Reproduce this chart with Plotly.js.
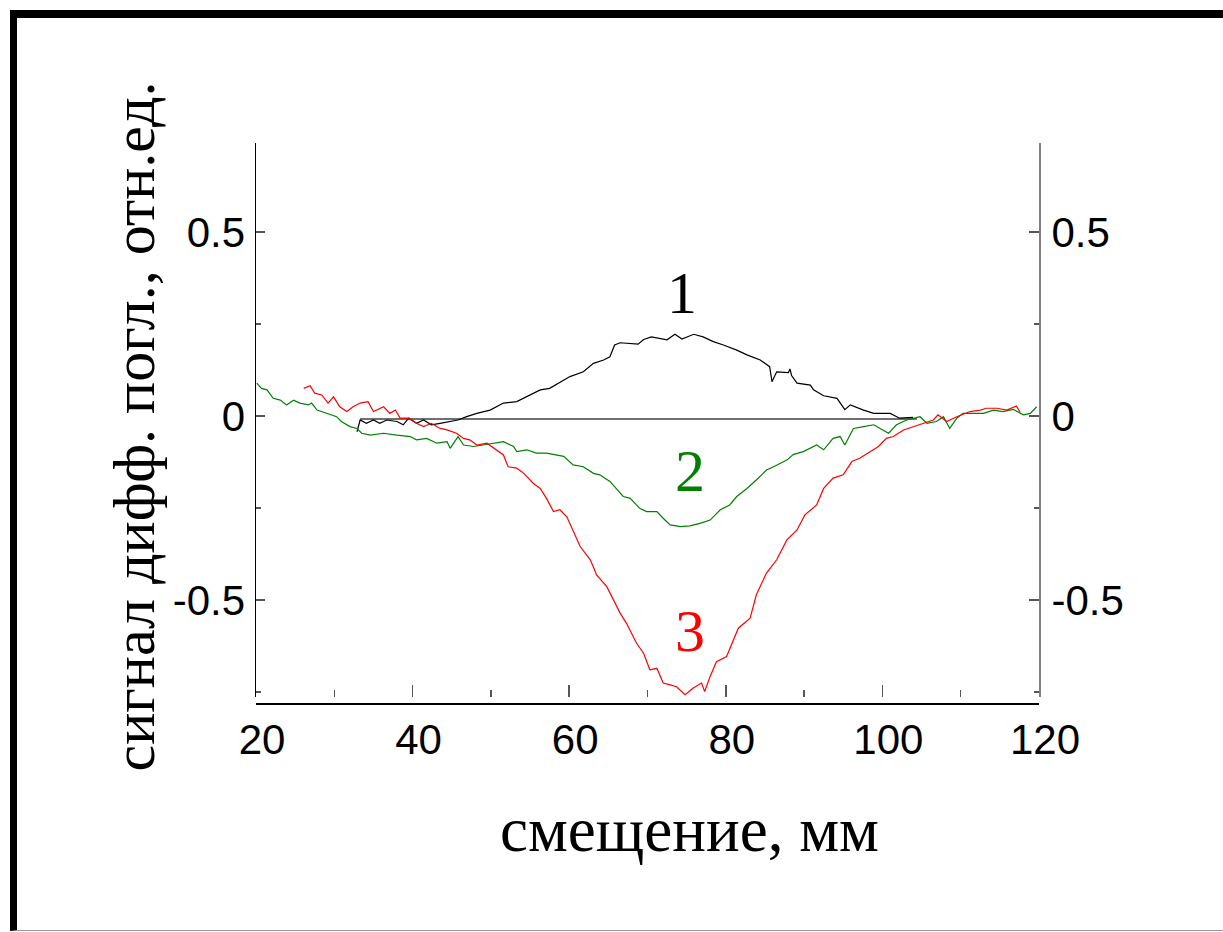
<!DOCTYPE html>
<html>
<head>
<meta charset="utf-8">
<script src="https://cdn.plot.ly/plotly-3.0.1.min.js"></script>
<style>
  html, body { margin: 0; padding: 0; background: #ffffff; }
  #frame { position: absolute; left: 10px; top: 10px; width: 1206px; height: 912px;
           border-left: 7px solid #000; border-top: 8px solid #000; border-bottom: 1px solid #999; }
  #chart { position: absolute; left: 0; top: 0; width: 1223px; height: 932px; }
</style>
</head>
<body>
<div id="frame"></div>
<div id="chart"></div>
<script>
// ---- data ----
const xTickVals = [20, 40, 60, 80, 100, 120];
const xTickText = ['20', '40', '60', '80', '100', '120'];
const yTickVals = [-0.5, 0, 0.5];
const yTickText = ['-0.5', '0', '0.5'];

// curve 1 (black)
const x1 = [32.9, 33.3, 34.1, 35.0, 35.8, 36.7, 38.0, 38.8, 39.5, 40.5, 41.4, 42.4, 43.5, 44.8, 45.8, 46.9, 48.2, 49.9,
  51.6, 53.3, 54.6, 56.3, 57.5, 58.6, 60.1, 61.8, 63.1, 64.4, 65.2, 65.8, 66.5, 68.8, 69.5, 70.5, 71.6, 72.5, 73.5,
  74.4, 75.9, 77.1, 78.4, 79.7, 81.4, 82.7, 84.4, 85.6, 85.9, 86.5, 88.0, 88.2, 88.4, 89.1, 90.8, 91.2, 92.5, 94.2,
  95.2, 95.9, 97.6, 98.9, 101.0, 102.2, 103.9];
const y1 = [-0.043, -0.011, -0.020, -0.011, -0.020, -0.011, -0.015, -0.024, -0.006, -0.020, -0.011, -0.024, -0.020,
  -0.015, -0.011, -0.002, 0.007, 0.016, 0.035, 0.039, 0.052, 0.071, 0.075, 0.089, 0.107, 0.120, 0.143, 0.152, 0.161,
  0.193, 0.199, 0.195, 0.208, 0.215, 0.211, 0.207, 0.222, 0.209, 0.222, 0.215, 0.202, 0.193, 0.179, 0.166, 0.152,
  0.134, 0.093, 0.120, 0.118, 0.128, 0.110, 0.089, 0.084, 0.071, 0.055, 0.048, 0.017, 0.030, 0.016, 0.007, 0.007,
  -0.006, -0.004];
// baseline under curve 1
const xBase = [33.3, 104.4];
const yBase = [-0.008, -0.008];

// curve 2 (green)
const x2 = [20.1, 20.7, 21.4, 22.2, 23.1, 23.9, 24.8, 25.6, 26.7, 27.1, 27.8, 29.0, 30.3, 30.9, 32.0, 32.9, 33.5, 34.6,
  36.3, 38.0, 39.7, 40.5, 41.8, 43.1, 44.4, 44.8, 45.8, 46.5, 47.8, 49.0, 50.7, 51.6, 52.9, 53.3, 54.6, 55.8, 57.1,
  58.4, 59.3, 60.5, 61.8, 63.1, 63.9, 65.2, 66.1, 66.9, 67.8, 69.0, 69.9, 71.2, 72.0, 72.9, 74.2, 75.4, 76.7, 78.0,
  79.3, 80.5, 81.4, 82.7, 83.9, 85.2, 86.1, 87.8, 88.6, 89.9, 91.6, 92.5, 93.7, 94.6, 95.2, 96.3, 97.6, 98.9, 99.7,
  100.8, 101.8, 103.1, 104.8, 105.7, 106.9, 107.8, 108.6, 109.5, 110.3, 111.6, 112.9, 114.2, 115.4, 116.7, 118.0,
  118.9, 119.7];
const y2 = [0.089, 0.075, 0.071, 0.048, 0.043, 0.030, 0.043, 0.035, 0.030, 0.035, 0.016, 0.007, -0.002, -0.015,
  -0.029, -0.034, -0.047, -0.052, -0.047, -0.052, -0.056, -0.065, -0.061, -0.074, -0.070, -0.088, -0.056, -0.079,
  -0.083, -0.079, -0.074, -0.070, -0.083, -0.097, -0.092, -0.101, -0.101, -0.106, -0.110, -0.133, -0.138, -0.156,
  -0.160, -0.178, -0.201, -0.219, -0.224, -0.251, -0.260, -0.260, -0.278, -0.296, -0.301, -0.299, -0.292, -0.283,
  -0.255, -0.242, -0.219, -0.197, -0.174, -0.147, -0.138, -0.120, -0.105, -0.097, -0.079, -0.092, -0.061, -0.056,
  -0.079, -0.034, -0.029, -0.024, -0.034, -0.047, -0.024, -0.011, -0.002, -0.020, -0.015, -0.002, -0.034, -0.006,
  0.007, 0.007, 0.007, 0.016, 0.012, 0.018, 0.003, 0.007, 0.025];

// curve 3 (red)
const x3 = [26.1, 26.9, 27.5, 28.4, 29.2, 29.9, 30.7, 31.6, 32.4, 33.3, 34.3, 35.0, 36.3, 37.1, 37.8, 38.4, 39.5, 40.5,
  41.4, 42.4, 43.5, 44.4, 45.6, 46.5, 47.3, 48.2, 49.5, 50.7, 51.6, 52.2, 53.3, 54.2, 55.4, 56.3, 57.1, 58.0, 58.8,
  59.7, 60.5, 61.4, 62.7, 63.5, 64.8, 65.6, 66.5, 67.3, 68.6, 69.5, 70.3, 71.2, 72.0, 72.9, 73.7, 74.8, 75.8, 76.9,
  77.3, 78.0, 78.8, 80.1, 80.8, 81.6, 83.1, 83.9, 85.2, 86.5, 87.8, 89.1, 90.1, 91.6, 92.5, 93.7, 95.0, 96.1, 97.1,
  98.4, 99.5, 100.5, 101.4, 102.7, 103.9, 105.2, 106.5, 107.1, 108.2, 109.5, 111.2, 112.5, 113.3, 114.6, 115.9,
  117.1, 117.6];
const y3 = [0.075, 0.082, 0.062, 0.057, 0.035, 0.052, 0.025, 0.012, 0.025, 0.035, 0.039, 0.012, 0.025, 0.007, 0.016,
  -0.006, -0.006, -0.020, -0.029, -0.020, -0.034, -0.038, -0.047, -0.061, -0.065, -0.079, -0.074, -0.092, -0.106,
  -0.138, -0.142, -0.156, -0.183, -0.197, -0.224, -0.260, -0.255, -0.274, -0.310, -0.355, -0.391, -0.432, -0.464,
  -0.500, -0.536, -0.563, -0.618, -0.645, -0.690, -0.686, -0.726, -0.731, -0.736, -0.758, -0.740, -0.726, -0.749,
  -0.708, -0.668, -0.654, -0.618, -0.577, -0.550, -0.486, -0.427, -0.391, -0.337, -0.310, -0.269, -0.242, -0.197,
  -0.169, -0.160, -0.124, -0.115, -0.097, -0.083, -0.061, -0.056, -0.038, -0.029, -0.020, -0.011, 0.003, -0.015,
  -0.002, 0.012, 0.016, 0.021, 0.021, 0.016, 0.027, 0.010];

const curveLabels = ['1', '2', '3'];
const labelX = [74.4, 75.4, 75.4];
const labelY = [0.335, -0.15, -0.585];
const curveColors = ['#000000', '#008000', '#ff0000'];

const xTitle = 'смещение, мм';
const yTitle = 'сигнал дифф. погл., отн.ед.';

// ---- chart ----
const yRange = [-0.764, 0.742];
const traces = [
  {x: xBase, y: yBase, type: 'scatter', mode: 'lines', line: {color: '#707070', width: 2}, hoverinfo: 'skip'},
  {x: x1, y: y1, type: 'scatter', mode: 'lines', line: {color: curveColors[0], width: 1.2}},
  {x: x2, y: y2, type: 'scatter', mode: 'lines', line: {color: curveColors[1], width: 1.2}},
  {x: x3, y: y3, type: 'scatter', mode: 'lines', line: {color: curveColors[2], width: 1.2}},
  {x: [xTickVals[0]], y: [0], yaxis: 'y2', type: 'scatter', mode: 'markers', marker: {opacity: 0}, hoverinfo: 'skip'}
];

const tickFont = {family: 'Liberation Sans, Arial, sans-serif', size: 42, color: '#000'};
const serif = 'Liberation Serif, Times New Roman, serif';

const annotations = curveLabels.map((t, i) => ({
  x: labelX[i], y: labelY[i], xref: 'x', yref: 'y', text: t, showarrow: false,
  font: {family: serif, size: 60, color: curveColors[i]}
}));
annotations.push({
  x: 0.554, y: -0.24, xref: 'paper', yref: 'paper', text: xTitle, showarrow: false,
  xanchor: 'center', yanchor: 'middle', font: {family: serif, size: 63, color: '#000'}
});
annotations.push({
  x: -0.156, y: 0.488, xref: 'paper', yref: 'paper', text: yTitle, showarrow: false, textangle: -90,
  xanchor: 'center', yanchor: 'middle', font: {family: serif, size: 60, color: '#000'}
});

const layout = {
  width: 1223, height: 932,
  margin: {l: 256, r: 184, t: 143, b: 235, pad: 0},
  paper_bgcolor: 'rgba(0,0,0,0)', plot_bgcolor: 'rgba(0,0,0,0)',
  showlegend: false,
  xaxis: {
    range: [20, 120], tickmode: 'array', tickvals: xTickVals, ticktext: xTickText,
    showgrid: false, zeroline: false, showline: false,
    ticks: 'inside', ticklen: 12, tickwidth: 1.5, tickcolor: '#555',
    minor: {dtick: 10, tick0: 0, ticks: 'inside', ticklen: 7, tickwidth: 1.5, tickcolor: '#555'},
    tickfont: tickFont, ticklabelstandoff: 14, ticklabelshift: 6
  },
  yaxis: {
    range: yRange, tickmode: 'array', tickvals: yTickVals, ticktext: yTickText,
    showgrid: false, zeroline: false, showline: true, linecolor: '#000', linewidth: 1.5,
    ticks: 'inside', ticklen: 9, tickwidth: 1.5, tickcolor: '#555',
    minor: {dtick: 0.25, tick0: 0, ticks: 'inside', ticklen: 5, tickwidth: 1.5, tickcolor: '#555'},
    tickfont: tickFont, ticklabelstandoff: 1
  },
  yaxis2: {
    range: yRange, overlaying: 'y', side: 'right', tickmode: 'array', tickvals: yTickVals, ticktext: yTickText,
    showgrid: false, zeroline: false, showline: true, linecolor: '#808080', linewidth: 2,
    ticks: 'inside', ticklen: 10, tickwidth: 1.5, tickcolor: '#555',
    minor: {dtick: 0.25, tick0: 0, ticks: 'inside', ticklen: 5, tickwidth: 1.5, tickcolor: '#555'},
    tickfont: tickFont, ticklabelstandoff: 2
  },
  shapes: [
    {type: 'line', xref: 'paper', yref: 'paper', x0: 0, x1: 1, y0: -0.0126, y1: -0.0126,
     line: {color: '#000', width: 2}}
  ],
  annotations: annotations
};

Plotly.newPlot('chart', traces, layout, {displayModeBar: false, staticPlot: true});
</script>
</body>
</html>
